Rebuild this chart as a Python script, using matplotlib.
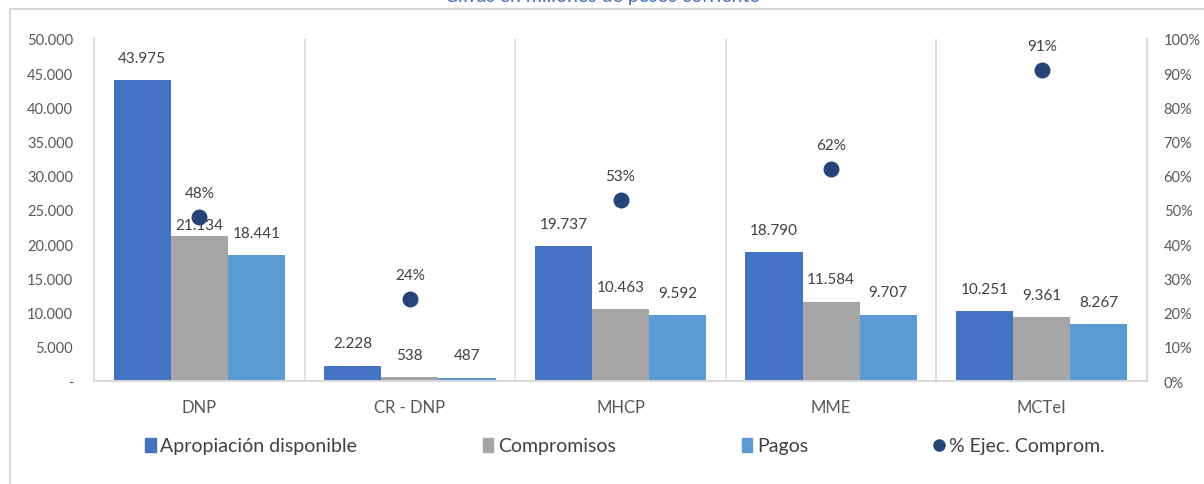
import matplotlib.pyplot as plt
import numpy as np
from matplotlib.patches import Rectangle
from matplotlib.lines import Line2D

plt.rcParams['font.family'] = ['Lato', 'DejaVu Sans']

# datos (millones de pesos corrientes)
entidades = ['DNP', 'CR - DNP', 'MHCP', 'MME', 'MCTeI']
apropiacion = [43975, 2228, 19737, 18790, 10251]
compromisos = [21134, 538, 10463, 11584, 9361]
pagos = [18441, 487, 9592, 9707, 8267]
pct_ejec = [48, 24, 53, 62, 91]

c_apr = '#4472C4'
c_com = '#A5A5A5'
c_pag = '#5B9BD5'
c_pct = '#264478'
c_txt = '#404040'
c_grid = '#D9D9D9'


def miles(v):
    return f'{v:,.0f}'.replace(',', '.')


fig = plt.figure(figsize=(12.04, 4.85), dpi=100)
ax = fig.add_axes([94 / 1204, 1 - 382 / 485, (1147 - 94) / 1204, (382 - 40) / 485])
ax2 = ax.twinx()

x = np.arange(len(entidades))
w = 0.271
series = [(apropiacion, c_apr, -w), (compromisos, c_com, 0), (pagos, c_pag, w)]
for k, (vals, col, off) in enumerate(series):
    bars = ax.bar(x + off, vals, w, color=col, zorder=2)
    for i, (b, v) in enumerate(zip(bars, vals)):
        # la etiqueta de compromisos DNP queda pegada a la barra para no tapar el punto
        dy = 3 if (k == 1 and i == 0) else 11
        ax.annotate(miles(v), (b.get_x() + b.get_width() / 2, v),
                    xytext=(0, dy), textcoords='offset points',
                    ha='center', va='bottom', fontsize=11, color=c_txt)

ax.set_xlim(-0.5, len(entidades) - 0.5)
ax.set_ylim(0, 50000)
ax.set_yticks(np.arange(0, 50001, 5000))
ax.set_yticklabels(['-'] + [miles(v) for v in np.arange(5000, 50001, 5000)])
ax.set_xticks(x)
ax.set_xticklabels(entidades)

# separadores verticales entre categorias
for sep in np.arange(0.5, len(entidades) - 0.5, 1):
    ax.axvline(sep, color=c_grid, lw=1.2, zorder=1)

ax2.scatter(x, pct_ejec, s=110, color=c_pct, zorder=3)
for xi, p in zip(x, pct_ejec):
    ax2.annotate(f'{p}%', (xi, p), xytext=(0, 12), textcoords='offset points',
                 ha='center', va='bottom', fontsize=11, color=c_txt)
ax2.set_ylim(0, 100)
ax2.set_yticks(np.arange(0, 101, 10))
ax2.set_yticklabels([f'{v}%' for v in range(0, 101, 10)])

for a in (ax, ax2):
    a.spines['top'].set_visible(False)
    for s in ('left', 'right', 'bottom'):
        a.spines[s].set_color(c_grid)
        a.spines[s].set_linewidth(1.2)
    a.tick_params(length=0, labelsize=10.5, colors='#595959')
ax.tick_params(axis='y', pad=15)
ax.tick_params(axis='x', pad=13, labelsize=12)
ax2.tick_params(axis='y', pad=12)

# marco del grafico
fig.patches.append(Rectangle((10 / 1204, -0.1), 1.2, 1 - 10 / 485 + 0.1,
                             transform=fig.transFigure, fill=False,
                             edgecolor=c_grid, lw=1.5))

fig.text(0.5, 1 - 2 / 485, 'Cifras en millones de pesos corriente',
         ha='center', va='baseline', fontsize=14, color=c_apr)

handles = [
    Rectangle((0, 0), 1, 1, color=c_apr),
    Rectangle((0, 0), 1, 1, color=c_com),
    Rectangle((0, 0), 1, 1, color=c_pag),
    Line2D([], [], marker='o', ls='', color=c_pct, markersize=8),
]
labels = ['Apropiación disponible', 'Compromisos', 'Pagos', '% Ejec. Comprom.']
fig.legend(handles, labels, loc='center', bbox_to_anchor=(0.519, 1 - 447 / 485),
           ncol=4, frameon=False, fontsize=14, handlelength=0.55,
           handleheight=0.75, handletextpad=0.25, columnspacing=6.45,
           labelcolor='#404040')

fig.savefig('out.png', dpi=100)
